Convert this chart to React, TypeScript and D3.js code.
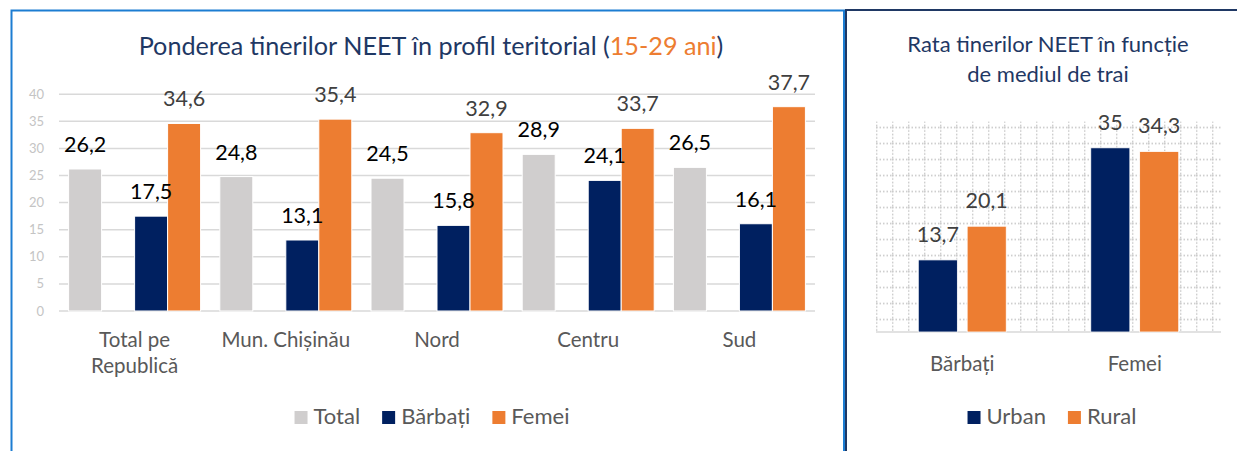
import * as d3 from 'd3';

// ---- data ----
const categories = ['Total pe Republică', 'Mun. Chișinău', 'Nord', 'Centru', 'Sud'];
const categoryLines = [['Total pe', 'Republică'], ['Mun. Chișinău'], ['Nord'], ['Centru'], ['Sud']];
const totalValues = [26.2, 24.8, 24.5, 28.9, 26.5];
const barbatiValues = [17.5, 13.1, 15.8, 24.1, 16.1];
const femeiValues = [34.6, 35.4, 32.9, 33.7, 37.7];
const leftSeries = ['Total', 'Bărbați', 'Femei'];

const envCategories = ['Bărbați', 'Femei'];
const urbanValues = [13.7, 35];
const ruralValues = [20.1, 34.3];
const rightSeries = ['Urban', 'Rural'];

const FONT = 'Lato, "Open Sans", sans-serif';
const NAVY = '#002060';
const ORANGE = '#ED7D31';
const GRAY_BAR = '#D0CECE';
const TITLE = '#1F3864';
const TEXT = '#595959';

const fmt = (v: number) => String(v).replace('.', ',');

let ctx: CanvasRenderingContext2D | null = null;
function measure(text: string, size: number) {
	if (!ctx) ctx = document.createElement('canvas').getContext('2d');
	if (!ctx) return text.length * size * 0.5;
	ctx.font = `${size}px ${FONT}`;
	return ctx.measureText(text).width;
}

function Legend({ items, colors, cx, y, size }: { items: string[]; colors: string[]; cx: number; y: number; size: number }) {
	const sq = 13;
	const gap = 6;
	const spacing = 22;
	const widths = items.map((t) => sq + gap + measure(t, size));
	const total = d3.sum(widths) + spacing * (items.length - 1);
	let x = cx - total / 2;
	return (
		<g>
			{items.map((t, i) => {
				const x0 = x;
				x += widths[i] + spacing;
				return (
					<g key={t}>
						<rect x={x0} y={y - 13} width={sq} height={sq} fill={colors[i]} />
						<text x={x0 + sq + gap} y={y} fontSize={size} fill={TEXT}>
							{t}
						</text>
					</g>
				);
			})}
		</g>
	);
}

function LeftChart() {
	const x0 = d3.scaleBand<string>().domain(categories).range([59, 815]).paddingInner(0.127).paddingOuter(0.0635);
	// 4 slots: second slot stays empty as in the source chart
	const x1 = d3.scaleBand<string>().domain(['Total', '_', 'Bărbați', 'Femei']).range([0, x0.bandwidth()]);
	const y = d3.scaleLinear().domain([0, 40]).range([311, 94.2]);
	const seriesValues = [totalValues, barbatiValues, femeiValues];
	const colors = [GRAY_BAR, NAVY, ORANGE];
	const labelColors = ['#000000', '#000000', '#404040'];

	return (
		<g>
			<text x={431} y={55} textAnchor="middle" fontSize={25.2} fill={TITLE}>
				Ponderea tinerilor NEET în profil teritorial (<tspan fill={ORANGE}>15-29 ani</tspan>)
			</text>
			{y.ticks(8).map((t) => (
				<g key={t}>
					<line x1={59} x2={815} y1={y(t)} y2={y(t)} stroke="#D9D9D9" strokeWidth={1.5} />
					<text x={44} y={y(t)} dy="0.35em" textAnchor="end" fontSize={13} fill="#C4C4C4">
						{t}
					</text>
				</g>
			))}
			{categories.map((c, ci) => (
				<g key={c} transform={`translate(${x0(c)},0)`}>
					{leftSeries.map((s, si) => {
						const v = seriesValues[si][ci];
						return (
							<rect key={s} x={x1(s)} y={y(v)} width={x1.bandwidth()} height={y(0) - y(v)} fill={colors[si]} stroke="#fff" strokeWidth={1} />
						);
					})}
					{categoryLines[ci].map((ln, li) => (
						<text key={ln} x={x0.bandwidth() / 2} y={346.5 + li * 26} textAnchor="middle" fontSize={20.5} fill={TEXT}>
							{ln}
						</text>
					))}
				</g>
			))}
			{categories.map((c, ci) => (
				<g key={c} transform={`translate(${x0(c)},0)`}>
					{leftSeries.map((s, si) => {
						const v = seriesValues[si][ci];
						return (
							<text key={s} x={x1(s)! + x1.bandwidth() / 2} y={y(v) - 17} textAnchor="middle" fontSize={21.5} fill={labelColors[si]}>
								{fmt(v)}
							</text>
						);
					})}
				</g>
			))}
			<Legend items={leftSeries} colors={colors} cx={432} y={424} size={22} />
		</g>
	);
}

function RightChart() {
	const left = 876;
	const right = 1221;
	const x0 = d3.scaleBand<string>().domain(envCategories).range([left, right]).paddingInner(0.49).paddingOuter(0.245);
	const x1 = d3.scaleBand<string>().domain(rightSeries).range([0, x0.bandwidth()]).paddingInner(0.2);
	const y = d3.scaleLinear().domain([0, 40]).range([332, 121.5]);
	const seriesValues = [urbanValues, ruralValues];
	const colors = [NAVY, ORANGE];

	return (
		<g>
			<defs>
				<pattern id="dotgrid" x={left} y={126.7} width={16} height={16} patternUnits="userSpaceOnUse">
					<line x1={0} x2={16} y1={0.7} y2={0.7} stroke="#C6C6C6" strokeWidth={1.4} strokeDasharray="1.5,2" />
					<line x1={0.7} x2={0.7} y1={0} y2={16} stroke="#C6C6C6" strokeWidth={1.4} strokeDasharray="1.5,2" />
				</pattern>
			</defs>
			<text x={1048} y={52} textAnchor="middle" fontSize={22} fill={TITLE}>
				Rata tinerilor NEET în funcție
			</text>
			<text x={1048} y={81.5} textAnchor="middle" fontSize={22} fill={TITLE}>
				de mediul de trai
			</text>
			<rect x={left} y={y(40)} width={right - left} height={y(0) - y(40)} fill="url(#dotgrid)" />
			<line x1={left} x2={right} y1={y(0)} y2={y(0)} stroke="#D9D9D9" strokeWidth={1.5} />
			{envCategories.map((c, ci) => (
				<g key={c} transform={`translate(${x0(c)},0)`}>
					{rightSeries.map((s, si) => {
						const v = seriesValues[si][ci];
						return (
							<rect key={s} x={x1(s)} y={y(v)} width={x1.bandwidth()} height={y(0) - y(v)} fill={colors[si]} stroke="#fff" strokeWidth={0.8} />
						);
					})}
					{rightSeries.map((s, si) => {
						const v = seriesValues[si][ci];
						return (
							<text key={s} x={x1(s)! + x1.bandwidth() / 2} y={y(v) - 18} textAnchor="middle" fontSize={21.5} fill="#404040">
								{fmt(v)}
							</text>
						);
					})}
					<text x={x0.bandwidth() / 2} y={370.7} textAnchor="middle" fontSize={20.5} fill={TEXT}>
						{c}
					</text>
				</g>
			))}
			<Legend items={rightSeries} colors={colors} cx={1052} y={424} size={22} />
		</g>
	);
}

export default function App() {
	return (
		<div style={{ position: 'fixed', left: 0, top: 0 }}>
			<svg width={1237} height={451} style={{ display: 'block', fontFamily: FONT, background: '#fff' }}>
				<rect x={0} y={0} width={1237} height={451} fill="#fff" />
				<rect x={11.5} y={10.5} width={832.5} height={460} fill="none" stroke="#1C7DD2" strokeWidth={2} />
				<line x1={845.5} x2={1240} y1={10} y2={10} stroke={TITLE} strokeWidth={2} />
				<line x1={846} x2={846} y1={9} y2={460} stroke={TITLE} strokeWidth={2} />
				<LeftChart />
				<RightChart />
			</svg>
		</div>
	);
}
